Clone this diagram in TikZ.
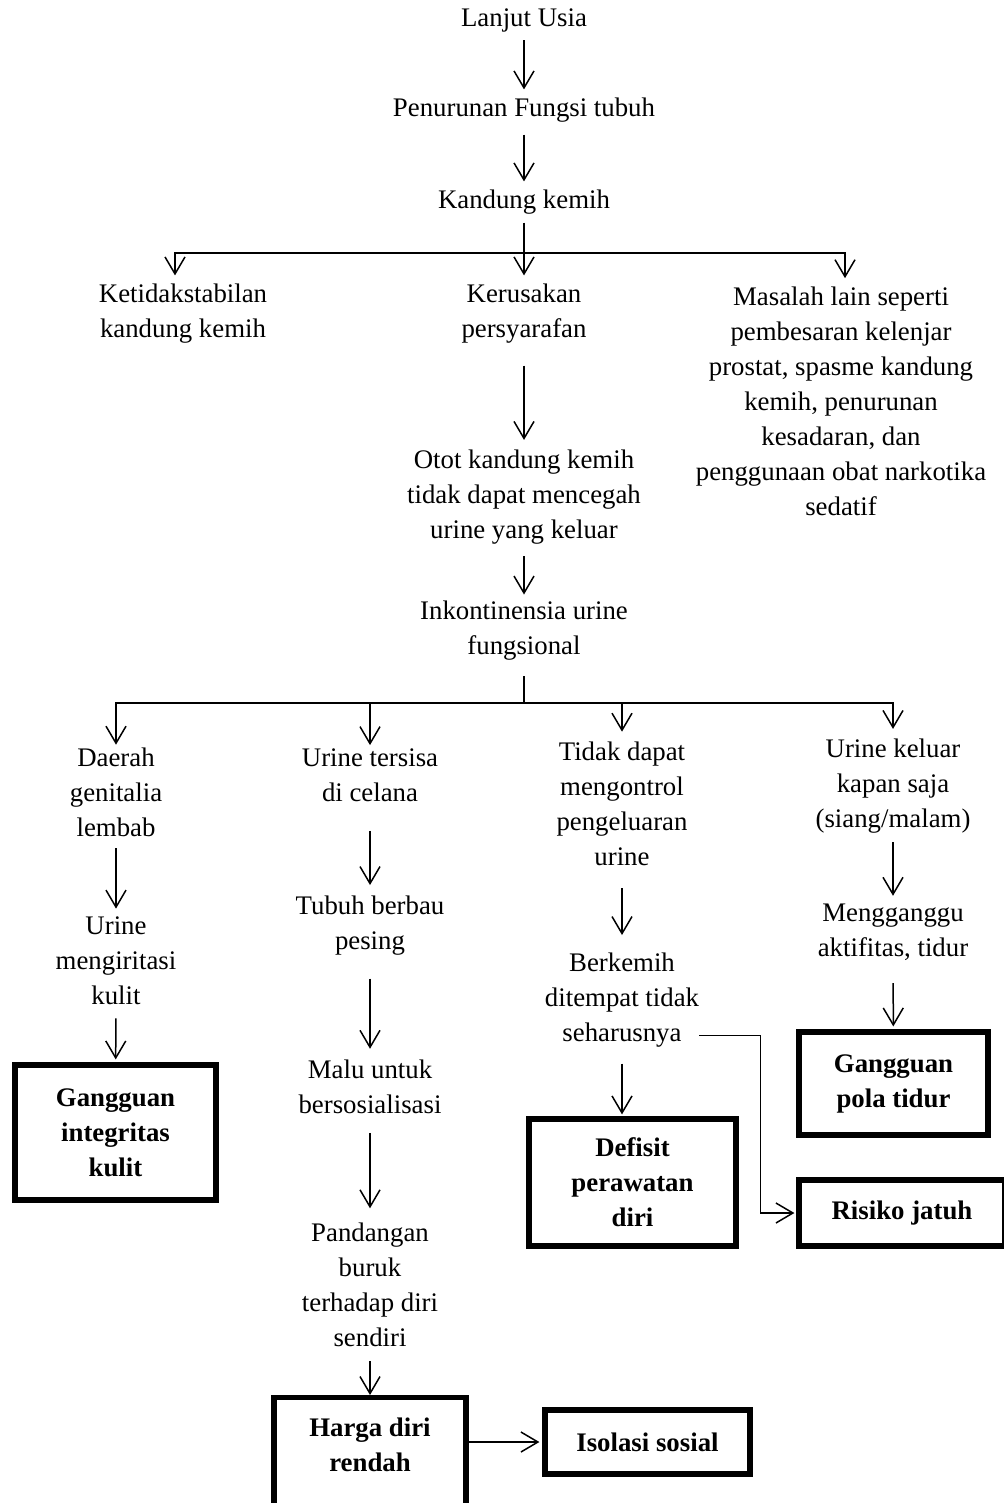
\documentclass[tikz,border=0pt]{standalone}
\usepackage{fontspec}
\setmainfont{Liberation Serif}
\usetikzlibrary{arrows.meta}
\tikzset{
panah/.style={-{Straight Barb[length=8.5pt,width=10pt]}, line width=0.75pt, shorten <=4pt, shorten >=4pt}, % arrows between the steps
garis/.style={line width=0.75pt, shorten <=4pt}, % plain joining lines
teks/.style={align=center, inner sep=0pt, font=\fontsize{13.4}{17.5}\selectfont}, % plain text steps
kotak/.style={draw, line width=2.6pt, align=center, inner sep=0pt, font=\fontsize{13.4}{17.5}\selectfont\bfseries}, % the boxed diagnoses
}

\begin{document}
\begin{tikzpicture}[x=0.5pt, y=-0.5pt]
    \useasboundingbox (0,0) rectangle (1003,1503);

    % main column
    \node[teks] (lanjut) at (524,20) {Lanjut Usia};
    \node[teks] (penurunan) at (524,110) {Penurunan Fungsi tubuh};
    \node[teks] (kandung) at (524,202) {Kandung kemih};
    \coordinate (cabang1) at (524,253);
    \node[teks] (ketidak) at (183,313.5) {Ketidakstabilan\\kandung kemih};
    \node[teks] (kerusakan) at (524,313.5) {Kerusakan\\persyarafan};
    \node[teks] (masalah) at (841,401) {Masalah lain seperti\\pembesaran kelenjar\\prostat, spasme kandung\\kemih, penurunan\\kesadaran, dan\\penggunaan obat narkotika\\sedatif};
    \node[teks] (otot) at (524,497.5) {Otot kandung kemih\\tidak dapat mencegah\\urine yang keluar};
    \node[teks] (inko) at (524,631) {Inkontinensia urine\\fungsional};
    \coordinate (cabang2) at (524,703);

    % four branches
    \node[teks] (daerah) at (116,792.5) {Daerah\\genitalia\\lembab};
    \node[teks] (iritasi) at (116,961) {Urine\\mengiritasi\\kulit};
    \node[kotak, minimum width=100.5pt, minimum height=67.5pt] (integritas) at (115.5,1132.5) {Gangguan\\integritas\\kulit};

    \node[teks] (tersisa) at (370,775) {Urine tersisa\\di celana};
    \node[teks] (berbau) at (370,925.5) {Tubuh berbau\\pesing};
    \node[teks] (malu) at (370,1086.5) {Malu untuk\\bersosialisasi};
    \node[teks] (pandangan) at (370,1285) {Pandangan\\buruk\\terhadap diri\\sendiri};
    \node[kotak, minimum width=96pt, anchor=north, inner ysep=10pt, text depth=45pt] (harga) at (370,1395) {Harga diri\\rendah};
    \node[kotak, minimum width=102.5pt, minimum height=32pt] (isolasi) at (647.5,1442) {Isolasi sosial};

    \node[teks] (kontrol) at (622,804) {Tidak dapat\\mengontrol\\pengeluaran\\urine};
    \node[teks] (berkemih) at (622,1000) {Berkemih\\ditempat tidak\\seharusnya};
    \node[kotak, minimum width=103.5pt, minimum height=63.5pt] (defisit) at (632.5,1182.5) {Defisit\\perawatan\\diri};
    \node[kotak, minimum width=103pt, minimum height=33pt] (risiko) at (902,1213) {Risiko jatuh};

    \node[teks] (keluar) at (893,786.5) {Urine keluar\\kapan saja\\(siang/malam)};
    \node[teks] (ganggu) at (893,932.5) {Mengganggu\\aktifitas, tidur};
    \node[kotak, minimum width=94.5pt, minimum height=51.5pt] (pola) at (893.5,1083.5) {Gangguan\\pola tidur};

    % connectors
    \draw[panah] (lanjut) -- (penurunan);
    \draw[panah, shorten <=6pt] (penurunan) -- (kandung);
    \draw[garis] (kandung) -- (cabang1);
    \draw[panah, shorten <=0pt] (cabang1) -| ([xshift=-4pt]ketidak.north);
    \draw[panah, shorten <=0pt] (cabang1) -- (kerusakan);
    \draw[panah, shorten <=0pt] (cabang1) -| ([xshift=2pt]masalah.north);
    \draw[panah, shorten <=11pt, shorten >=5pt] (kerusakan) -- (otot);
    \draw[panah, shorten <=5.5pt, shorten >=3.2pt] (otot) -- (inko);
    \draw[garis, shorten <=7.5pt] (inko) -- (cabang2);
    \draw[panah, shorten <=0pt, shorten >=1.5pt] (cabang2) -| (daerah.north);
    \draw[panah, shorten <=0pt, shorten >=1.5pt] (cabang2) -| (tersisa.north);
    \draw[panah, shorten <=0pt, shorten >=5pt] (cabang2) -| (kontrol.north);
    \draw[panah, shorten <=0pt, shorten >=5pt] (cabang2) -| (keluar.north);

    \draw[panah, shorten <=5.5pt] (daerah) -- (iritasi);
    \draw[panah, shorten <=6.5pt, shorten >=1.5pt] (iritasi) -- (integritas);

    \draw[panah, shorten <=14.5pt, shorten >=5.2pt] (tersisa) -- (berbau);
    \draw[panah, shorten <=11.5pt, shorten >=5.2pt] (berbau) -- (malu);
    \draw[panah, shorten <=9.5pt, shorten >=7.2pt] (malu) -- (pandangan);
    \draw[panah, shorten <=7pt, shorten >=0pt] (pandangan) -- (harga);
    \draw[panah, shorten <=0pt, shorten >=1.5pt] (isolasi.west -| harga.east) -- (isolasi.west);

    \draw[panah, shorten <=11pt, shorten >=8.7pt] (kontrol) -- (berkemih);
    \draw[panah, shorten <=8pt, shorten >=1pt] (berkemih.south) -- (berkemih.south |- defisit.north);
    \draw[panah, shorten <=0pt, shorten >=1pt] ([yshift=6pt]berkemih.south east) -- ++(61,0) |- (risiko.west);

    \draw[panah] (keluar) -- (ganggu);
    \draw[panah, shorten <=11pt, shorten >=1.5pt] (ganggu) -- (pola);
\end{tikzpicture}
\end{document}
